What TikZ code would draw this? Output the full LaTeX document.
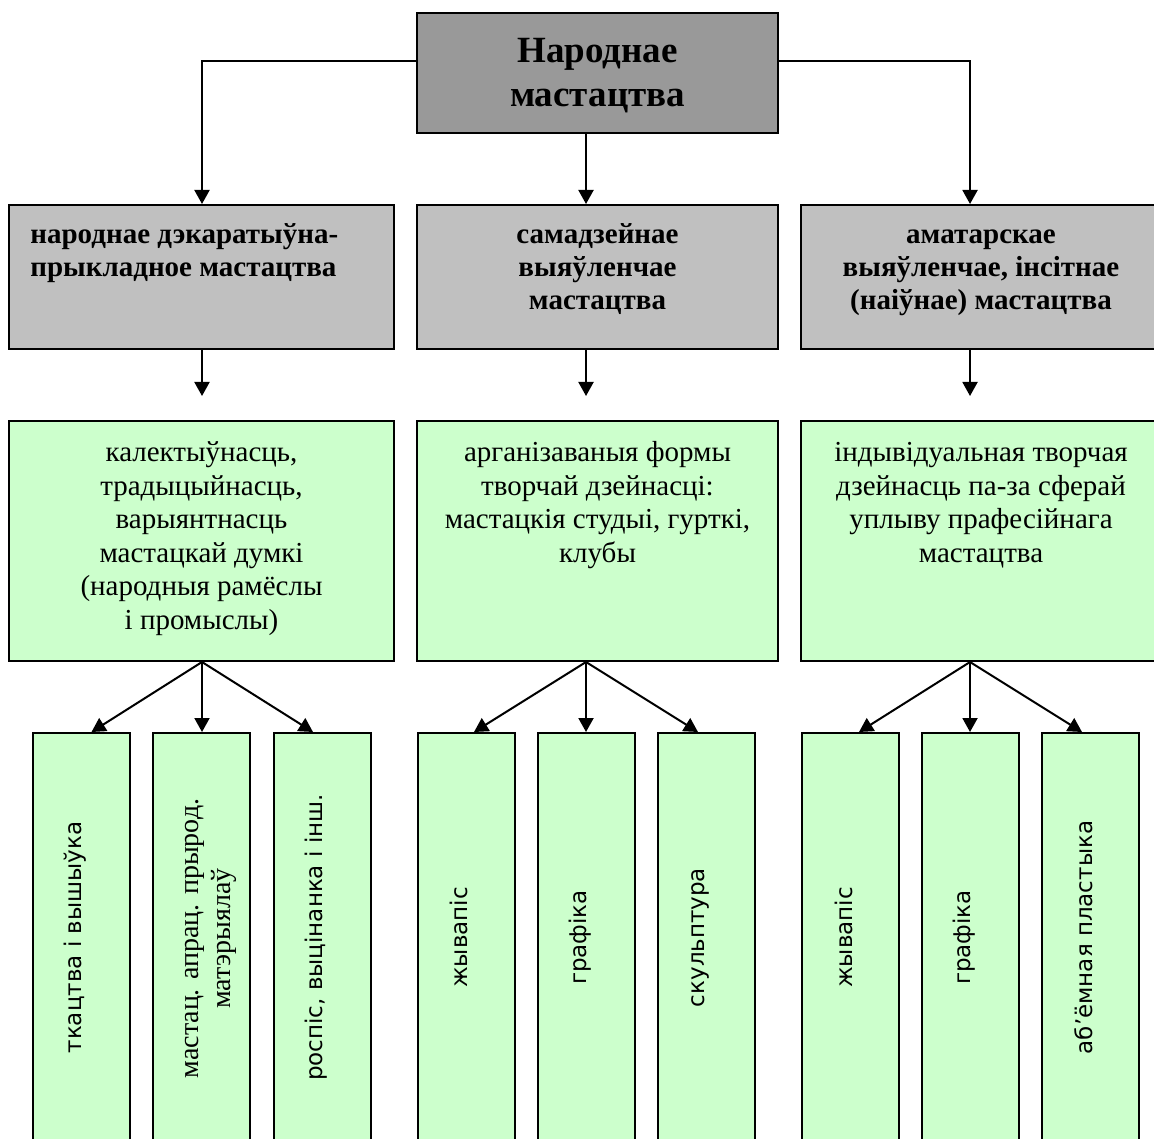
\documentclass[tikz,border=0pt]{standalone}
\usepackage{fontspec}
\setmainfont{Liberation Serif}
\newfontfamily\sansfnt{DejaVu Sans}
\usetikzlibrary{arrows.meta,calc}

\definecolor{rootgray}{HTML}{999999}
\definecolor{kindgray}{HTML}{C0C0C0}
\definecolor{leafgreen}{HTML}{CCFFCC}

\begin{document}
\begin{tikzpicture}[x=0.5pt, y=-0.5pt,
    box/.style={draw, line width=1pt, inner sep=0pt},
    rootbox/.style={box, fill=rootgray, minimum width=180.5pt, minimum height=60pt},
    kindbox/.style={box, fill=kindgray, minimum height=72pt},
    formbox/.style={box, fill=leafgreen, minimum height=120pt},
    leafbox/.style={box, fill=leafgreen, minimum width=48.5pt, minimum height=204.5pt},
    roottxt/.style={inner sep=0pt, align=center, anchor=north, font=\fontsize{18.5}{22}\selectfont\bfseries},
    kindtxt/.style={inner sep=0pt, anchor=north, font=\fontsize{14.5}{16.5}\selectfont\bfseries},
    formtxt/.style={inner sep=0pt, align=center, anchor=north, font=\fontsize{14.5}{16.8}\selectfont},
    leaftxt/.style={inner sep=0pt, rotate=90, font=\sansfnt\fontsize{11.5}{14}\selectfont},
    arr/.style={-{Triangle[width=7.5pt,length=7pt]}, line width=1pt}]

  \path[use as bounding box, clip] (0,0) rectangle (1154,1138);

  \coordinate (ax1) at (202,0);
  \coordinate (ax2) at (586,0);
  \coordinate (ax3) at (970,0);
  \coordinate (hl) at (0,61);

  % top
  \node[rootbox] (root) at (597.5,73) {};
  \node[roottxt] (root-txt) at ($(root.north)+(0,19)$) {\strut Народнае\\мастацтва};

  % kinds
  \node[kindbox, minimum width=192.5pt] (l2a) at (201.5,277) {};
  \node[kindbox, minimum width=180.5pt] (l2b) at (597.5,277) {};
  \node[kindbox, minimum width=180pt] (l2c) at (981,277) {};
  \node[kindtxt, anchor=north west, align=left] (l2a-txt) at ($(l2a.north west)+(22,16)$) {\strut народнае дэкаратыўна-\\прыкладное мастацтва};
  \node[kindtxt, align=center] (l2b-txt) at ($(l2b.north)+(0,16)$) {\strut самадзейнае\\выяўленчае\\мастацтва};
  \node[kindtxt, align=center] (l2c-txt) at ($(l2c.north)+(0,16)$) {\strut аматарскае\\выяўленчае, інсітнае\\(наіўнае) мастацтва};

  % forms
  \node[formbox, minimum width=192.5pt] (l3a) at (201.5,541) {};
  \node[formbox, minimum width=180.5pt] (l3b) at (597.5,541) {};
  \node[formbox, minimum width=180pt] (l3c) at (981,541) {};
  \node[formtxt] (l3a-txt) at ($(l3a.north)+(0,17.5)$) {\strut калектыўнасць,\\традыцыйнасць,\\варыянтнасць\\мастацкай думкі\\(народныя рамёслы\\і промыслы)};
  \node[formtxt] (l3b-txt) at ($(l3b.north)+(0,17.5)$) {\strut арганізаваныя формы\\творчай дзейнасці:\\мастацкія студыі, гурткі,\\клубы};
  \node[formtxt] (l3c-txt) at ($(l3c.north)+(0,17.5)$) {\strut індывідуальная творчая\\дзейнасць па-за сферай\\уплыву прафесійнага\\мастацтва};

  % leaves
  \node[leafbox] (l4a) at (81.5,937.5) {};
  \node[leafbox] (l4b) at (201.5,937.5) {};
  \node[leafbox] (l4c) at (322,937.5) {};
  \node[leafbox] (l4d) at (466,937.5) {};
  \node[leafbox] (l4e) at (586,937.5) {};
  \node[leafbox] (l4f) at (706,937.5) {};
  \node[leafbox] (l4g) at (850,937.5) {};
  \node[leafbox] (l4h) at (970,937.5) {};
  \node[leafbox] (l4i) at (1090,937.5) {};

  \node[leaftxt] (l4a-txt) at ($(l4a.center)+(-6,0)$) {ткацтва і вышыўка};
  \node[leaftxt, align=center, font=\fontsize{14}{16}\selectfont] (l4b-txt) at ($(l4b.center)+(9,1)$) {мастац. апрац. прырод.\\матэрыялаў};
  \node[leaftxt] (l4c-txt) at ($(l4c.center)+(-6,0)$) {роспіс, выцінанка і інш.};
  \node[leaftxt] (l4d-txt) at ($(l4d.center)+(-7,0)$) {жывапіс};
  \node[leaftxt] (l4e-txt) at ($(l4e.center)+(-6,0)$) {графіка};
  \node[leaftxt] (l4f-txt) at ($(l4f.center)+(-6,0)$) {скульптура};
  \node[leaftxt] (l4g-txt) at ($(l4g.center)+(-6,0)$) {жывапіс};
  \node[leaftxt] (l4h-txt) at ($(l4h.center)+(-6,0)$) {графіка};
  \node[leaftxt] (l4i-txt) at ($(l4i.center)+(-6,0)$) {аб’ёмная пластыка};

  % top arrows
  \draw[arr] (root.west |- hl) -| (l2a.north -| ax1);
  \draw[arr] (root.south -| ax2) -- (l2b.north -| ax2);
  \draw[arr] (root.east |- hl) -| (l2c.north -| ax3);

  % short arrows
  \coordinate (s1) at (202,396);
  \coordinate (s2) at (586,396);
  \coordinate (s3) at (970,396);
  \draw[arr] (l2a.south -| ax1) -- (s1);
  \draw[arr] (l2b.south -| ax2) -- (s2);
  \draw[arr] (l2c.south -| ax3) -- (s3);

  % fans
  \draw[arr] (l3a.south -| ax1) -- ($(l4a.north)+(10,0)$);
  \draw[arr] (l3a.south -| ax1) -- (l4b.north -| ax1);
  \draw[arr] (l3a.south -| ax1) -- ($(l4c.north)+(-9,0)$);

  \draw[arr] (l3b.south -| ax2) -- ($(l4d.north)+(8,0)$);
  \draw[arr] (l3b.south -| ax2) -- (l4e.north -| ax2);
  \draw[arr] (l3b.south -| ax2) -- ($(l4f.north)+(-8,0)$);

  \draw[arr] (l3c.south -| ax3) -- ($(l4g.north)+(9,0)$);
  \draw[arr] (l3c.south -| ax3) -- (l4h.north -| ax3);
  \draw[arr] (l3c.south -| ax3) -- ($(l4i.north)+(-8,0)$);

\end{tikzpicture}
\end{document}
